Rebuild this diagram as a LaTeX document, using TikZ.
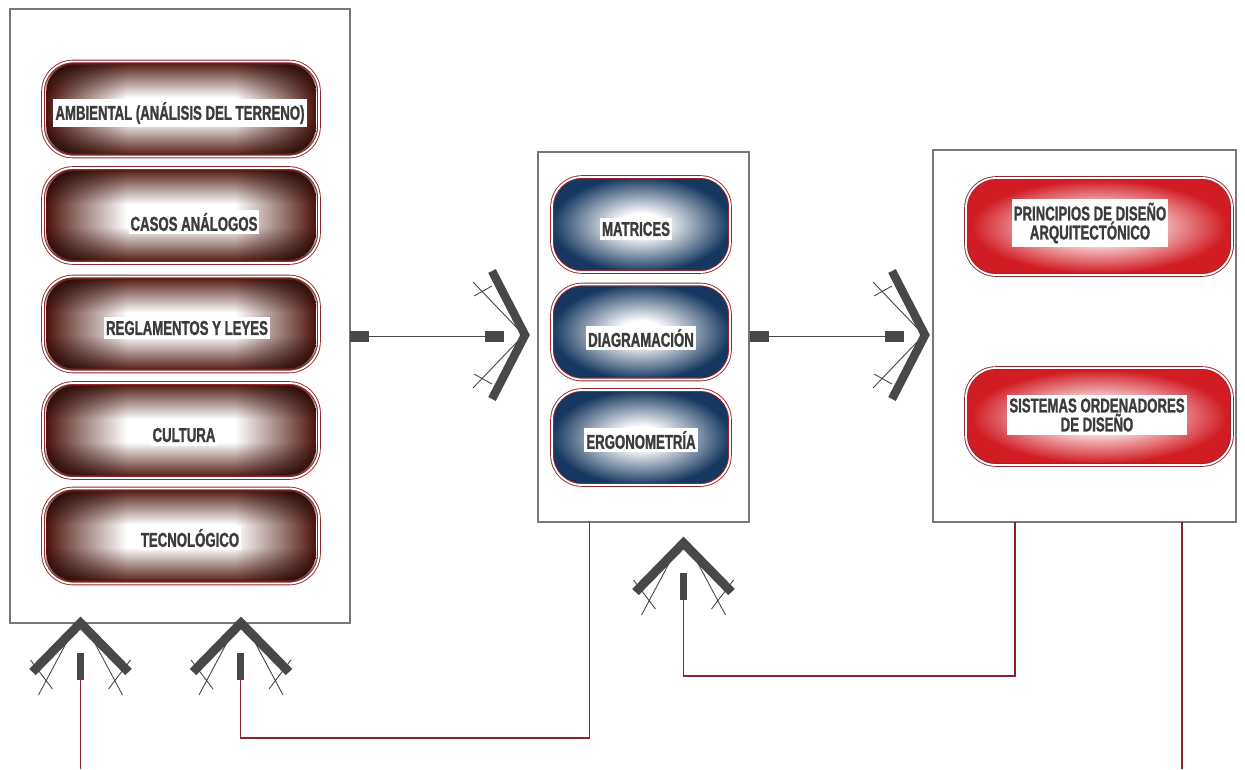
\documentclass[tikz,border=0pt]{standalone}
\usepackage{fontspec}
\setmainfont{Liberation Sans}[FakeStretch=0.66, BoldFeatures={FakeBold=1.2}]
\definecolor{brownD}{RGB}{78,18,12}
\definecolor{brownM}{RGB}{150,118,112}
\definecolor{blueD}{RGB}{22,56,96}
\definecolor{redD}{RGB}{210,28,36}
\definecolor{pillEdge}{RGB}{150,40,45}
\definecolor{boxGray}{RGB}{120,120,120}
\definecolor{symGray}{RGB}{72,72,72}
\definecolor{fbRed}{RGB}{140,35,50}
\definecolor{txtGray}{RGB}{60,60,60}
\pgfdeclareverticalshading{vBrown}{100bp}{color(0bp)=(brownD); color(25bp)=(brownD); color(33bp)=(brownM); color(44bp)=(white); color(56bp)=(white); color(67bp)=(brownM); color(75bp)=(brownD); color(100bp)=(brownD)}
\pgfdeclarehorizontalshading{hBrown}{100bp}{color(0bp)=(brownD); color(25bp)=(brownD); color(31bp)=(brownM); color(40bp)=(white); color(60bp)=(white); color(69bp)=(brownM); color(75bp)=(brownD); color(100bp)=(brownD)}
\pgfdeclareradialshading{shBlue}{\pgfpointorigin}{color(0bp)=(white); color(6bp)=(white); color(25bp)=(blueD); color(50bp)=(blueD)}
\pgfdeclareradialshading{shRed}{\pgfpointorigin}{color(0bp)=(white); color(6bp)=(white); color(24bp)=(redD); color(50bp)=(redD)}
\tikzset{
  bigbox/.style={draw=boxGray, line width=1.2pt, fill=white, inner sep=0pt, outer sep=0pt},
  pill/.style={draw=pillEdge, line width=0.9pt, double=white, double distance=1.8pt,
               rounded corners=30pt, inner sep=0pt, outer sep=0pt, shade},
  pillL/.style={pill, shading=vBrown, minimum width=276pt, minimum height=95pt},
  pillM/.style={pill, shading=shBlue, minimum width=178pt, minimum height=95pt},
  pillR/.style={pill, shading=shRed, minimum width=266pt, minimum height=97pt},
  endshade/.style={rounded corners=27pt, shade, shading=hBrown, blend mode=multiply},
  lab/.style={fill=white, text=txtGray, font=\bfseries\fontsize{20}{19}\selectfont,
              inner xsep=2pt, inner ysep=3.5pt, align=center},
  hrect/.style={fill=symGray, minimum width=19pt, minimum height=11pt, inner sep=0pt, outer sep=0pt},
  vrect/.style={fill=symGray, minimum width=7pt, minimum height=27pt, inner sep=0pt, outer sep=0pt},
  conn/.style={draw=symGray, line width=1.3pt},
  fb/.style={draw=fbRed, line width=1.1pt},
  chevup/.pic={
    \draw[symGray, line width=9pt] (-48,49) -- (0,0) -- (48,49);
    \draw[symGray, line width=0.9pt] (-10,12) -- (-42,72) (10,12) -- (42,72)
         (-50,37) -- (-28,66) (50,37) -- (28,66);
  },
  chevright/.pic={
    \draw[symGray, line width=8.5pt] (-33,-64) -- (0,0) -- (-33,64);
    \draw[symGray, line width=0.9pt] (-8,-7) -- (-52,-53) (-8,7) -- (-52,53)
         (-51,-39) -- (-33,-49) (-51,39) -- (-33,49);
  }
}
\begin{document}
\begin{tikzpicture}[x=1pt, y=-1pt]
\useasboundingbox (0,0) rectangle (1245,769);
% big boxes
\node[bigbox, minimum width=340pt, minimum height=614pt] (L) at (180,316) {};
\node[bigbox, minimum width=211pt, minimum height=370pt] (M) at (643.5,337) {};
\node[bigbox, minimum width=303pt, minimum height=372pt] (R) at (1084.5,336) {};
% left pills
\node[pillL] (l1) at (181,109) {};
\node[pillL] (l2) at (181,215.5) {};
\node[pillL] (l3) at (181,324) {};
\node[pillL] (l4) at (181,430.5) {};
\node[pillL] (l5) at (181,536) {};
\foreach \n in {l1,l2,l3,l4,l5}
  \path[endshade] ([shift={(3.2,-3.2)}]\n.south west) rectangle ([shift={(-3.2,3.2)}]\n.north east);
\node[lab] (tl1) at (180,113) {AMBIENTAL (ANÁLISIS DEL TERRENO)};
\node[lab] (tl2) at (194,222) {CASOS ANÁLOGOS};
\node[lab] (tl3) at (187,328) {REGLAMENTOS Y LEYES};
\node[lab] (tl4) at (184,435) {CULTURA};
\node[lab] (tl5) at (190,538) {TECNOLÓGICO};
% middle pills
\node[pillM] (m1) at (641,224.5) {};
\node[pillM] (m2) at (641,332) {};
\node[pillM] (m3) at (641,437.5) {};
\node[lab] (tm1) at (636,229) {MATRICES};
\node[lab] (tm2) at (641,338) {DIAGRAMACIÓN};
\node[lab] (tm3) at (641,440) {ERGONOMETRÍA};
% right pills
\node[pillR] (r1) at (1099,226.5) {};
\node[pillR] (r2) at (1099,416.5) {};
\node[lab] (tr1) at (1090,223) {PRINCIPIOS DE DISEÑO\\ARQUITECTÓNICO};
\node[lab] (tr2) at (1097,415) {SISTEMAS ORDENADORES\\DE DISEÑO};
% horizontal connectors
\node[hrect] (a1) at (359.5,336.5) {};
\node[hrect] (a2) at (494,336.5) {};
\draw[conn] (a1) -- (a2);
\pic at (525,335) {chevright};
\node[hrect] (b1) at (759.5,336.5) {};
\node[hrect] (b2) at (894,336.5) {};
\draw[conn] (b1) -- (b2);
\pic at (925,335) {chevright};
% bottom feedback symbols
\pic at (80.5,623) {chevup};
\pic at (241,623) {chevup};
\pic at (683.5,543) {chevup};
\node[vrect] (v1) at (80.5,666.5) {};
\node[vrect] (v2) at (240.5,666.5) {};
\node[vrect] (v3) at (683.5,586.5) {};
% feedback lines
\coordinate (mb) at (589.5,522);
\coordinate (rb1) at (1015,522);
\coordinate (rb2) at (1182,522);
\coordinate (e1) at (80.5,769);
\coordinate (e2) at (1182,769);
\draw[fb] (mb) -- ++(0,216) -| (v2.south);
\draw[fb] (rb1) -- ++(0,154) -| (v3.south);
\draw[fb] (v1.south) -- (e1);
\draw[fb] (rb2) -- (e2);
\end{tikzpicture}
\end{document}
